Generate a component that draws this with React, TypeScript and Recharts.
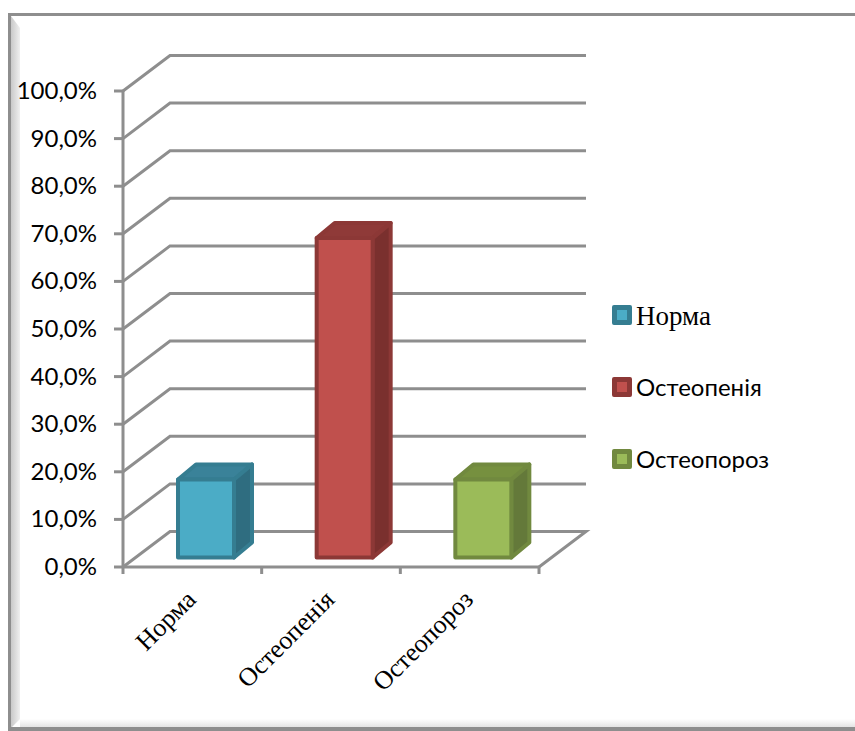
import React from "react";
import { BarChart, Bar, XAxis, YAxis, Legend, CartesianGrid } from "recharts";

const categories = ["Норма", "Остеопенія", "Остеопороз"];
const shares = [16.4, 67.1, 16.4];
const yTicks = [0, 10, 20, 30, 40, 50, 60, 70, 80, 90, 100];
const tickLabels = ["0,0%", "10,0%", "20,0%", "30,0%", "40,0%", "50,0%", "60,0%", "70,0%", "80,0%", "90,0%", "100,0%"];
const faceColors = ["#4bacc6", "#c0504d", "#9bbb59"];
const edgeColors = ["#357d91", "#8c3836", "#71893f"];
const topColors = ["#3a8299", "#8f3a38", "#76903f"];
const sideColors = ["#2f6d80", "#7a302e", "#64793a"];

const rows = categories.map((name, i) => ({ name, share: shares[i] }));

const DX = 47;
const DY = 35.5;
const PLOT_W = 416;
const FLOOR_Y = 567;
const GRID = "#8e8e8e";

const SANS = "Lato, Carlito, 'Open Sans', sans-serif";
const SERIF = "'Liberation Serif', serif";

function GridLine(props: any) {
  const { x1, x2, y1 } = props;
  const isFloor = Math.abs(y1 - FLOOR_Y) < 1;
  return (
    <polyline
      points={`${x1},${y1} ${x1 + DX},${y1 - DY} ${x2 + DX},${y1 - DY}${isFloor ? ` ${x2},${y1}` : ""}`}
      fill="none"
      stroke={GRID}
      strokeWidth={3}
    />
  );
}

function YTick(props: any) {
  const { x, y, index } = props;
  const x0 = x + 8;
  return (
    <g>
      <line x1={x0 - 9} x2={x0} y1={y} y2={y} stroke={GRID} strokeWidth={3} />
      <text x={x0 - 26} y={y + 8} textAnchor="end" fontFamily={SANS} fontSize={24} fill="#000">{tickLabels[index]}</text>
    </g>
  );
}

function XTick(props: any) {
  const { x, y, payload, index } = props;
  const half = PLOT_W / 6;
  return (
    <g>
      <line x1={x - half} x2={x - half} y1={y - 9} y2={y - 1} stroke={GRID} strokeWidth={3} />
      {index === categories.length - 1 && <line x1={x + half} x2={x + half} y1={y - 9} y2={y - 1} stroke={GRID} strokeWidth={3} />}
      <text transform={`translate(${x + 5},${y + 26}) rotate(-45)`} textAnchor="end" fontFamily={SERIF} fontSize={26} fill="#000">{payload.value}</text>
    </g>
  );
}

function Box3D(props: any) {
  const { x, y, width, height, index } = props;
  const l = x + 14;
  const t = y - 9.5;
  const r = l + width;
  const b = t + height;
  const dx = 18;
  const dy = 15;
  const edge = edgeColors[index];
  const common = { stroke: edge, strokeWidth: 4, strokeLinejoin: "round" as const };
  return (
    <g>
      <polygon points={`${l},${t} ${l + dx},${t - dy} ${r + dx},${t - dy} ${r},${t}`} fill={topColors[index]} {...common} />
      <polygon points={`${r},${t} ${r + dx},${t - dy} ${r + dx},${b - dy} ${r},${b}`} fill={sideColors[index]} {...common} />
      <rect x={l} y={t} width={width} height={height} fill={faceColors[index]} {...common} />
    </g>
  );
}

function LegendBox() {
  return (
    <div style={{ position: "absolute", left: 0, top: 0, width: 220, height: 190 }}>
      {categories.map((name, i) => (
        <div key={name} style={{ position: "absolute", left: 0, top: i * 72, height: 30, display: "flex", alignItems: "center", whiteSpace: "nowrap" }}>
          <span style={{ width: 20, height: 20, boxSizing: "border-box", border: `5px solid ${edgeColors[i]}`, borderRadius: 2, background: faceColors[i], display: "inline-block" }} />
          <span style={{ marginLeft: 4, marginTop: i === 0 ? 3 : -1, fontFamily: i === 0 ? SERIF : SANS, fontSize: i === 0 ? 27 : 24, color: "#000" }}>{name}</span>
        </div>
      ))}
    </div>
  );
}

export default function App() {
  return (
    <div style={{ position: "absolute", left: 0, top: 0, width: 855, height: 731, background: "#fff", overflow: "hidden" }}>
      <div style={{ position: "absolute", left: 8, top: 13, width: 847, height: 3, background: "#8e8e8e" }} />
      <div style={{ position: "absolute", left: 8, top: 13, width: 3, height: 718, background: "#8e8e8e" }} />
      <div style={{ position: "absolute", left: 11, top: 16, width: 9, height: 712, background: "linear-gradient(90deg,#c9c9c9,#f0f0f0)", clipPath: "polygon(0 0,100% 12px,100% calc(100% - 9px),0 100%)" }} />
      <div style={{ position: "absolute", left: 20, top: 719, width: 835, height: 8, background: "linear-gradient(180deg,#ffffff,#e4e4e4)" }} />
      <div style={{ position: "absolute", left: 11, top: 727, width: 844, height: 4, background: "#8e8e8e" }} />
      <BarChart width={855} height={731} data={rows} margin={{ top: 91, right: 316, bottom: 0, left: 0 }} style={{ position: "absolute", left: 0, top: 0 }}>
        <CartesianGrid vertical={false} horizontal={GridLine} syncWithTicks />
        <YAxis width={123} domain={[0, 100]} ticks={yTicks} interval={0} axisLine={{ stroke: GRID, strokeWidth: 3 }} tickLine={false} tick={YTick} />
        <XAxis dataKey="name" height={164} axisLine={{ stroke: GRID, strokeWidth: 3 }} tickLine={false} interval={0} tick={XTick} />
        <Legend content={LegendBox} layout="vertical" wrapperStyle={{ position: "absolute", left: 612, top: 300, width: 0, height: 0, overflow: "visible" }} />
        <Bar dataKey="share" barSize={56} isAnimationActive={false} shape={Box3D} />
      </BarChart>
    </div>
  );
}
